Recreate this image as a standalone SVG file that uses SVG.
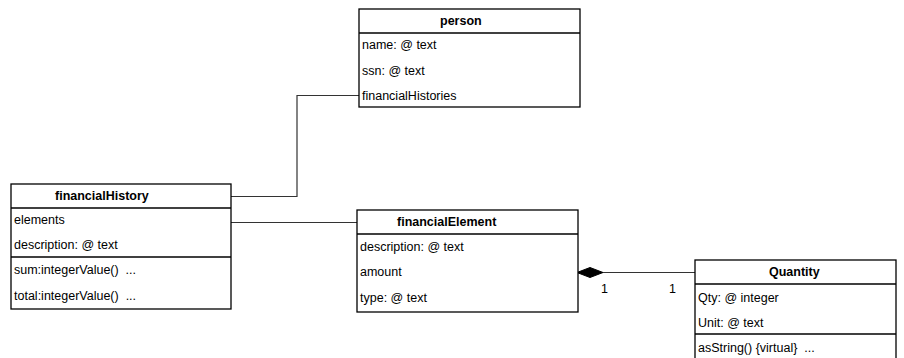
<svg xmlns="http://www.w3.org/2000/svg" width="904" height="358" viewBox="0 0 904 358">
  <style>
    .box { fill: #ffffff; stroke: #000000; stroke-width: 1.3; }
    .sep { stroke: #000000; stroke-width: 1.3; }
    .title { font-family: "Liberation Sans", Arial, sans-serif; font-size: 12.5px; font-weight: bold; fill: #000000; }
    .attr { font-family: "Liberation Sans", Arial, sans-serif; font-size: 12.5px; fill: #000000; white-space: pre; }
    .edge { fill: none; stroke: #333333; stroke-width: 1.2; }
    .mult { font-family: "Liberation Sans", Arial, sans-serif; font-size: 12.5px; fill: #000000; }
  </style>

  <rect width="904" height="358" fill="#ffffff"/>

  <g id="connectors">
    <!-- financialHistory to person.financialHistories -->
    <polyline class="edge" points="231,196.5 297,196.5 297,95.5 359,95.5"/>
    <!-- financialHistory.elements to financialElement -->
    <polyline class="edge" points="231,222.5 357,222.5"/>
    <!-- composition: financialElement owns Quantity -->
    <polyline class="edge" points="603,272.5 695,272.5"/>
    <polygon points="577,272.5 590,267.5 603,272.5 590,277.5" fill="#000000" stroke="#000000" stroke-width="1"/>
    <text class="mult" x="601" y="293">1</text>
    <text class="mult" x="669" y="293">1</text>
  </g>

  <g id="person">
    <rect class="box" x="359" y="9" width="221" height="98"/>
    <line class="sep" x1="359" y1="33" x2="580" y2="33"/>
    <text class="title" x="440" y="25">person</text>
    <text class="attr" x="362" y="49">name: @ text</text>
    <text class="attr" x="362" y="75">ssn: @ text</text>
    <text class="attr" x="362" y="100">financialHistories</text>
  </g>

  <g id="financialHistory">
    <rect class="box" x="11" y="184" width="220" height="125"/>
    <line class="sep" x1="11" y1="208" x2="231" y2="208"/>
    <line class="sep" x1="11" y1="257" x2="231" y2="257"/>
    <text class="title" x="55" y="200">financialHistory</text>
    <text class="attr" x="14" y="224">elements</text>
    <text class="attr" x="14" y="249">description: @ text</text>
    <text class="attr" x="14" y="274" xml:space="preserve">sum:integerValue()  ...</text>
    <text class="attr" x="14" y="300" xml:space="preserve">total:integerValue()  ...</text>
  </g>

  <g id="financialElement">
    <rect class="box" x="357" y="210" width="221" height="102"/>
    <line class="sep" x1="357" y1="234" x2="578" y2="234"/>
    <text class="title" x="397" y="226">financialElement</text>
    <text class="attr" x="360" y="251">description: @ text</text>
    <text class="attr" x="360" y="276">amount</text>
    <text class="attr" x="360" y="302">type: @ text</text>
  </g>

  <g id="Quantity">
    <rect class="box" x="695" y="260" width="201" height="110"/>
    <line class="sep" x1="695" y1="284" x2="896" y2="284"/>
    <line class="sep" x1="695" y1="334" x2="896" y2="334"/>
    <text class="title" x="769" y="276">Quantity</text>
    <text class="attr" x="698" y="302">Qty: @ integer</text>
    <text class="attr" x="698" y="327">Unit: @ text</text>
    <text class="attr" x="698" y="352" xml:space="preserve">asString() {virtual}  ...</text>
  </g>
</svg>
